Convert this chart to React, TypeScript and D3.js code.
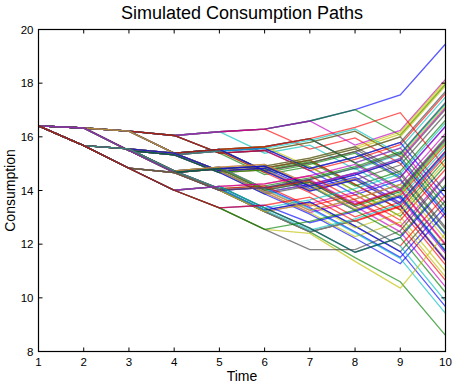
import React from "react";
import * as d3 from "d3";

const width = 454;
const height = 383;
const margin = { top: 29.5, right: 8.5, bottom: 31.5, left: 38.5 };

const times = [1, 2, 3, 4, 5, 6, 7, 8, 9, 10];
const xTicks = [1, 2, 3, 4, 5, 6, 7, 8, 9, 10];
const yTicks = [8, 10, 12, 14, 16, 18, 20];

// MATLAB default colour order
const colorOrder = ["#0000ff", "#008000", "#ff0000", "#00bfbf", "#bf00bf", "#bfbf00", "#404040"];

// Simulated consumption paths, one row per path (values at time 1..10)
const paths = [
  [16.41, 16.33, 16.21, 16.05, 16.19, 16.29, 16.59, 17.01, 17.56, 19.46],
  [16.41, 16.33, 16.21, 16.05, 16.19, 16.29, 16.59, 17.01, 16.06, 17.96],
  [16.41, 16.33, 16.21, 16.05, 16.19, 16.29, 15.54, 15.96, 15.01, 12.96],
  [16.41, 16.33, 16.21, 16.05, 16.19, 15.39, 15.69, 14.79, 15.34, 17.24],
  [16.41, 16.33, 16.21, 16.05, 16.19, 16.29, 16.59, 15.69, 16.24, 18.14],
  [16.41, 16.33, 16.21, 16.05, 15.39, 15.49, 15.79, 16.21, 15.26, 17.16],
  [16.41, 16.33, 16.21, 16.05, 15.39, 15.49, 15.79, 16.21, 15.26, 13.21],
  [16.41, 16.33, 16.21, 16.05, 15.39, 15.49, 14.74, 13.84, 14.39, 12.34],
  [16.41, 16.33, 16.21, 16.05, 15.39, 14.59, 14.89, 13.99, 13.04, 14.94],
  [16.41, 16.33, 16.21, 16.05, 15.39, 15.49, 14.74, 15.16, 15.71, 17.61],
  [16.41, 16.33, 16.21, 15.39, 15.53, 15.63, 15.93, 15.03, 15.58, 17.48],
  [16.41, 16.33, 16.21, 15.39, 15.53, 15.63, 15.93, 15.03, 15.58, 13.53],
  [16.41, 16.33, 16.21, 15.39, 15.53, 15.63, 14.88, 13.98, 13.03, 10.98],
  [16.41, 16.33, 16.21, 15.39, 15.53, 14.73, 13.98, 14.4, 14.95, 16.85],
  [16.41, 16.33, 16.21, 15.39, 15.53, 14.73, 15.03, 15.45, 14.5, 16.4],
  [16.41, 16.33, 16.21, 15.39, 14.73, 14.83, 15.13, 14.23, 13.28, 15.18],
  [16.41, 16.33, 16.21, 15.39, 14.73, 14.83, 15.13, 14.23, 13.28, 11.23],
  [16.41, 16.33, 16.21, 15.39, 14.73, 13.93, 14.23, 14.65, 15.2, 13.15],
  [16.41, 16.33, 16.21, 15.39, 14.73, 13.93, 13.18, 13.6, 12.65, 14.55],
  [16.41, 16.33, 16.21, 15.39, 14.73, 14.83, 15.13, 15.55, 16.1, 18.0],
  [16.41, 16.33, 15.49, 15.33, 15.47, 15.57, 14.82, 15.24, 15.79, 17.69],
  [16.41, 16.33, 15.49, 15.33, 15.47, 15.57, 14.82, 15.24, 15.79, 13.74],
  [16.41, 16.33, 15.49, 15.33, 15.47, 14.67, 14.97, 15.39, 14.44, 12.39],
  [16.41, 16.33, 15.49, 15.33, 15.47, 14.67, 13.92, 13.02, 13.57, 15.47],
  [16.41, 16.33, 15.49, 15.33, 15.47, 15.57, 15.87, 16.29, 15.34, 17.24],
  [16.41, 16.33, 15.49, 15.33, 14.67, 14.77, 14.02, 14.44, 13.49, 15.39],
  [16.41, 16.33, 15.49, 15.33, 14.67, 14.77, 14.02, 14.44, 13.49, 11.44],
  [16.41, 16.33, 15.49, 15.33, 14.67, 13.87, 14.17, 13.27, 13.82, 11.77],
  [16.41, 16.33, 15.49, 15.33, 14.67, 13.87, 13.12, 12.22, 11.27, 13.17],
  [16.41, 16.33, 15.49, 15.33, 14.67, 14.77, 15.07, 14.17, 14.72, 16.62],
  [16.41, 16.33, 15.49, 14.67, 14.81, 14.91, 14.16, 13.26, 13.81, 15.71],
  [16.41, 16.33, 15.49, 14.67, 14.81, 14.91, 14.16, 13.26, 13.81, 11.76],
  [16.41, 16.33, 15.49, 14.67, 14.81, 14.01, 14.31, 13.41, 12.46, 10.41],
  [16.41, 16.33, 15.49, 14.67, 14.81, 14.91, 15.21, 15.63, 16.18, 18.08],
  [16.41, 16.33, 15.49, 14.67, 14.81, 14.91, 14.16, 14.58, 15.13, 17.03],
  [16.41, 16.33, 15.49, 14.67, 14.01, 14.11, 13.36, 12.46, 11.51, 13.41],
  [16.41, 16.33, 15.49, 14.67, 14.01, 13.21, 12.46, 11.5, 10.6, 8.6],
  [16.41, 16.33, 15.49, 14.67, 14.01, 13.21, 12.46, 12.88, 13.43, 11.38],
  [16.41, 16.33, 15.49, 14.67, 14.01, 14.11, 14.41, 14.83, 13.88, 15.78],
  [16.41, 16.33, 15.49, 14.67, 14.01, 13.21, 13.51, 13.93, 14.48, 16.38],
  [16.41, 15.67, 15.55, 15.39, 15.53, 14.73, 15.03, 15.45, 16.0, 17.9],
  [16.41, 15.67, 15.55, 15.39, 15.53, 14.73, 15.03, 15.45, 16.0, 13.95],
  [16.41, 15.67, 15.55, 15.39, 15.53, 14.73, 13.98, 14.4, 13.45, 11.4],
  [16.41, 15.67, 15.55, 15.39, 15.53, 15.63, 15.93, 15.03, 14.08, 15.98],
  [16.41, 15.67, 15.55, 15.39, 15.53, 15.63, 15.93, 16.35, 16.9, 14.85],
  [16.41, 15.67, 15.55, 15.39, 14.73, 13.93, 14.23, 14.65, 13.7, 15.6],
  [16.41, 15.67, 15.55, 15.39, 14.73, 13.93, 14.23, 14.65, 13.7, 11.65],
  [16.41, 15.67, 15.55, 15.39, 14.73, 13.93, 13.18, 12.28, 12.83, 10.78],
  [16.41, 15.67, 15.55, 15.39, 14.73, 14.83, 15.13, 15.55, 14.6, 12.55],
  [16.41, 15.67, 15.55, 15.39, 14.73, 14.83, 14.08, 14.5, 13.55, 15.45],
  [16.41, 15.67, 15.55, 14.73, 14.87, 14.07, 14.37, 13.47, 14.02, 15.92],
  [16.41, 15.67, 15.55, 14.73, 14.87, 14.07, 14.37, 13.47, 14.02, 11.97],
  [16.41, 15.67, 15.55, 14.73, 14.87, 14.07, 13.32, 12.42, 11.47, 9.42],
  [16.41, 15.67, 15.55, 14.73, 14.87, 14.97, 14.22, 14.64, 15.19, 17.09],
  [16.41, 15.67, 15.55, 14.73, 14.87, 14.97, 14.22, 13.32, 13.87, 15.77],
  [16.41, 15.67, 15.55, 14.73, 14.07, 13.27, 13.57, 12.67, 11.72, 13.62],
  [16.41, 15.67, 15.55, 14.73, 14.07, 13.27, 13.57, 12.67, 11.72, 9.67],
  [16.41, 15.67, 15.55, 14.73, 14.07, 14.17, 14.47, 14.89, 15.44, 13.39],
  [16.41, 15.67, 15.55, 14.73, 14.07, 14.17, 13.42, 13.84, 12.89, 14.79],
  [16.41, 15.67, 15.55, 14.73, 14.07, 13.27, 12.52, 12.94, 13.49, 15.39],
  [16.41, 15.67, 14.83, 14.67, 14.81, 14.01, 13.26, 13.68, 14.23, 16.13],
  [16.41, 15.67, 14.83, 14.67, 14.81, 14.01, 13.26, 13.68, 14.23, 12.18],
  [16.41, 15.67, 14.83, 14.67, 14.81, 14.91, 15.21, 15.63, 14.68, 12.63],
  [16.41, 15.67, 14.83, 14.67, 14.81, 14.91, 14.16, 14.58, 15.13, 13.08],
  [16.41, 15.67, 14.83, 14.67, 14.81, 14.01, 14.31, 13.41, 13.96, 15.86],
  [16.41, 15.67, 14.83, 14.67, 14.01, 13.21, 12.46, 12.88, 11.93, 13.83],
  [16.41, 15.67, 14.83, 14.67, 14.01, 13.21, 12.46, 12.88, 11.93, 9.88],
  [16.41, 15.67, 14.83, 14.67, 14.01, 14.11, 14.41, 13.51, 14.06, 12.01],
  [16.41, 15.67, 14.83, 14.67, 14.01, 13.21, 13.51, 12.61, 13.16, 15.06],
  [16.41, 15.67, 14.83, 14.67, 14.01, 14.11, 14.41, 14.83, 15.38, 17.28],
  [16.41, 15.67, 14.83, 14.01, 14.15, 13.35, 12.6, 11.7, 12.25, 14.15],
  [16.41, 15.67, 14.83, 14.01, 14.15, 13.35, 12.6, 11.7, 12.25, 10.2],
  [16.41, 15.67, 14.83, 14.01, 14.15, 14.25, 14.55, 13.65, 12.7, 10.65],
  [16.41, 15.67, 14.83, 14.01, 14.15, 13.35, 13.65, 14.07, 14.62, 16.52],
  [16.41, 15.67, 14.83, 14.01, 14.15, 14.25, 14.55, 14.97, 14.02, 15.92],
  [16.41, 15.67, 14.83, 14.01, 13.35, 12.55, 12.4, 11.36, 10.36, 12.4],
  [16.41, 15.67, 14.83, 14.01, 13.35, 12.55, 11.8, 11.8, 12.5, 14.5],
  [16.41, 15.67, 14.83, 14.01, 13.35, 13.45, 12.8, 13.22, 13.77, 11.72],
  [16.41, 15.67, 14.83, 14.01, 13.35, 12.55, 12.85, 13.27, 12.32, 14.22],
  [16.41, 15.67, 14.83, 14.01, 13.35, 13.45, 13.75, 12.85, 13.4, 15.3],
];

const font = "'Liberation Sans', Arial, Helvetica, sans-serif";

export default function App() {
  const x = d3
    .scaleLinear()
    .domain([1, 10])
    .range([margin.left, width - margin.right]);

  const y = d3
    .scaleLinear()
    .domain([8, 20])
    .range([height - margin.bottom, margin.top]);

  const line = d3
    .line<number>()
    .x((_, i) => x(times[i]))
    .y(d => y(d));

  const left = x.range()[0];
  const right = x.range()[1];
  const top = y.range()[1];
  const bottom = y.range()[0];
  const tick = 4;

  return (
    <svg
      width={width}
      height={height}
      style={{ position: "absolute", left: 0, top: 0, background: "#fff" }}
    >
      {/* Paths */}
      <g fill="none" strokeWidth={1.3} strokeOpacity={0.65}>
        {paths.map((p, i) => (
          <path key={i} d={line(p) || ""} stroke={colorOrder[i % colorOrder.length]} />
        ))}
      </g>

      {/* Box */}
      <rect
        x={left}
        y={top}
        width={right - left}
        height={bottom - top}
        fill="none"
        stroke="#000"
        strokeWidth={1.2}
      />

      {/* Ticks, inward on all four sides */}
      <g stroke="#000" strokeWidth={1}>
        {xTicks.map(t => (
          <g key={t}>
            <line x1={x(t)} x2={x(t)} y1={bottom} y2={bottom - tick} />
            <line x1={x(t)} x2={x(t)} y1={top} y2={top + tick} />
          </g>
        ))}
        {yTicks.map(t => (
          <g key={t}>
            <line x1={left} x2={left + tick} y1={y(t)} y2={y(t)} />
            <line x1={right} x2={right - tick} y1={y(t)} y2={y(t)} />
          </g>
        ))}
      </g>

      <g fontFamily={font} fontSize={11.5} fill="#000">
        {xTicks.map(t => (
          <text key={t} x={x(t)} y={bottom + 14.5} textAnchor="middle">
            {t}
          </text>
        ))}
        {yTicks.map(t => (
          <text key={t} x={left - 5} y={y(t)} dy="0.35em" textAnchor="end">
            {t}
          </text>
        ))}
      </g>

      {/* Labels */}
      <text
        x={(left + right) / 2}
        y={19}
        textAnchor="middle"
        fontFamily={font}
        fontSize={18}
        fill="#000"
      >
        Simulated Consumption Paths
      </text>
      <text
        x={(left + right) / 2}
        y={380.5}
        textAnchor="middle"
        fontFamily={font}
        fontSize={14}
        fill="#000"
      >
        Time
      </text>
      <text
        transform={`translate(15, ${(top + bottom) / 2}) rotate(-90)`}
        textAnchor="middle"
        fontFamily={font}
        fontSize={14}
        fill="#000"
      >
        Consumption
      </text>
    </svg>
  );
}
